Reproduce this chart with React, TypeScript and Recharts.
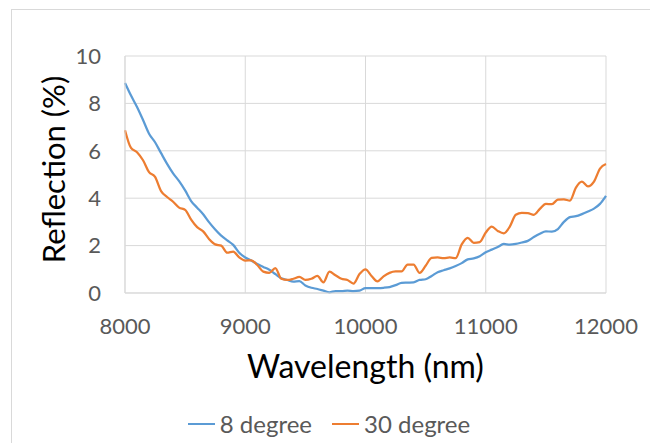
import React from 'react'
import { CartesianGrid, Legend, Line, LineChart, XAxis, YAxis } from 'recharts'

const wavelengths = [
  8000, 8050, 8100, 8150, 8200, 8250, 8300, 8350, 8400, 8450,
  8500, 8550, 8600, 8650, 8700, 8750, 8800, 8850, 8900, 8950,
  9000, 9050, 9100, 9150, 9200, 9250, 9300, 9350, 9400, 9450,
  9500, 9550, 9600, 9650, 9700, 9750, 9800, 9850, 9900, 9950,
  10000, 10050, 10100, 10150, 10200, 10250, 10300, 10350, 10400, 10450,
  10500, 10550, 10600, 10650, 10700, 10750, 10800, 10850, 10900, 10950,
  11000, 11050, 11100, 11150, 11200, 11250, 11300, 11350, 11400, 11450,
  11500, 11550, 11600, 11650, 11700, 11750, 11800, 11850, 11900, 11950,
  12000
]

const deg8 = [
  8.86, 8.33, 7.85, 7.3, 6.72, 6.36, 5.9, 5.45, 5.05, 4.72,
  4.33, 3.88, 3.6, 3.32, 2.98, 2.68, 2.42, 2.22, 2.03, 1.7,
  1.5, 1.37, 1.22, 1.1, 0.98, 0.8, 0.62, 0.55, 0.48, 0.5,
  0.32, 0.22, 0.17, 0.1, 0.03, 0.08, 0.08, 0.1, 0.08, 0.1,
  0.21, 0.21, 0.21, 0.22, 0.25, 0.33, 0.43, 0.44, 0.45, 0.55,
  0.58, 0.72, 0.88, 0.96, 1.04, 1.14, 1.26, 1.42, 1.46, 1.55,
  1.72, 1.83, 1.94, 2.07, 2.04, 2.07, 2.13, 2.2, 2.36, 2.5,
  2.6, 2.59, 2.7, 3.0, 3.2, 3.24, 3.33, 3.44, 3.56, 3.76,
  4.1
]

const deg30 = [
  6.87, 6.12, 5.94, 5.6, 5.1, 4.9, 4.3, 4.05, 3.85, 3.6,
  3.51, 3.1, 2.78, 2.6, 2.27, 2.05, 2.0, 1.7, 1.75, 1.5,
  1.37, 1.38, 1.18, 0.9, 0.85, 1.05, 0.6, 0.55, 0.6, 0.68,
  0.55, 0.6, 0.72, 0.45, 0.9, 0.75, 0.6, 0.55, 0.4, 0.8,
  1.0, 0.72, 0.49, 0.7, 0.85, 0.91, 0.91, 1.2, 1.2, 0.85,
  1.15, 1.48, 1.5, 1.47, 1.5, 1.47, 2.05, 2.33, 2.12, 2.15,
  2.55, 2.8, 2.62, 2.52, 2.8, 3.3, 3.38, 3.37, 3.3, 3.55,
  3.76, 3.75, 3.94, 3.95, 3.9, 4.45, 4.7, 4.5, 4.7, 5.25,
  5.44
]

const xTicks = [8000, 9000, 10000, 11000, 12000]
const yTicks = [0, 2, 4, 6, 8, 10]

const seriesNames = ['8 degree', '30 degree']
const colors = ['#5b9bd5', '#ed7d31']

const data = wavelengths.map((w, i) => ({ w, deg8: deg8[i], deg30: deg30[i] }))

const font = 'Lato, "Open Sans", sans-serif'

const LegendContent = () => (
  <div style={{ display: 'flex', justifyContent: 'center', fontFamily: font, fontSize: 24, color: '#595959' }}>
    {seriesNames.map((name, i) => (
      <div key={name} style={{ display: 'flex', alignItems: 'center', marginRight: i === 0 ? 20 : 0 }}>
        <span style={{ display: 'inline-block', width: 27, height: 2, background: colors[i], marginRight: 5 }} />
        <span>{name}</span>
      </div>
    ))}
  </div>
)

const App = () => {
  return (
    <div style={{ position: 'relative', marginLeft: -8, marginTop: -8, width: 658, height: 443, background: '#fff' }}>
      <div
        style={{
          position: 'absolute',
          left: 11,
          top: 9,
          width: 642,
          height: 440,
          border: '1px solid #d9d9d9',
          borderBottom: 'none'
        }}
      />
      <LineChart width={658} height={443} data={data} margin={{ top: 56, right: 52, left: 0, bottom: 0 }}>
        <CartesianGrid stroke="#d9d9d9" strokeWidth={1} />
        <XAxis
          dataKey="w"
          type="number"
          domain={[8000, 12000]}
          ticks={xTicks}
          height={150}
          axisLine={{ stroke: '#d9d9d9' }}
          tickLine={false}
          tickMargin={19}
          tick={{ fill: '#595959', fontSize: 22, fontFamily: font }}
          label={{ value: 'Wavelength (nm)', position: 'center', dy: -1, fill: '#000', fontSize: 32, fontFamily: font }}
        />
        <YAxis
          type="number"
          domain={[0, 10]}
          ticks={yTicks}
          width={125}
          axisLine={{ stroke: '#d9d9d9' }}
          tickLine={false}
          tickMargin={18}
          tick={{ fill: '#595959', fontSize: 22, fontFamily: font }}
          label={{ value: 'Reflection (%)', angle: -90, position: 'center', dx: -9, dy: -5, fill: '#000', fontSize: 31, fontFamily: font }}
        />
        <Legend
          verticalAlign="middle"
          align="center"
          layout="horizontal"
          content={<LegendContent />}
          wrapperStyle={{ top: 409, left: 0, width: 658 }}
        />
        <Line type="monotone" dataKey="deg8" name={seriesNames[0]} stroke={colors[0]} strokeWidth={2.25} dot={false} isAnimationActive={false} />
        <Line type="monotone" dataKey="deg30" name={seriesNames[1]} stroke={colors[1]} strokeWidth={2.25} dot={false} isAnimationActive={false} />
      </LineChart>
    </div>
  )
}

export default App
